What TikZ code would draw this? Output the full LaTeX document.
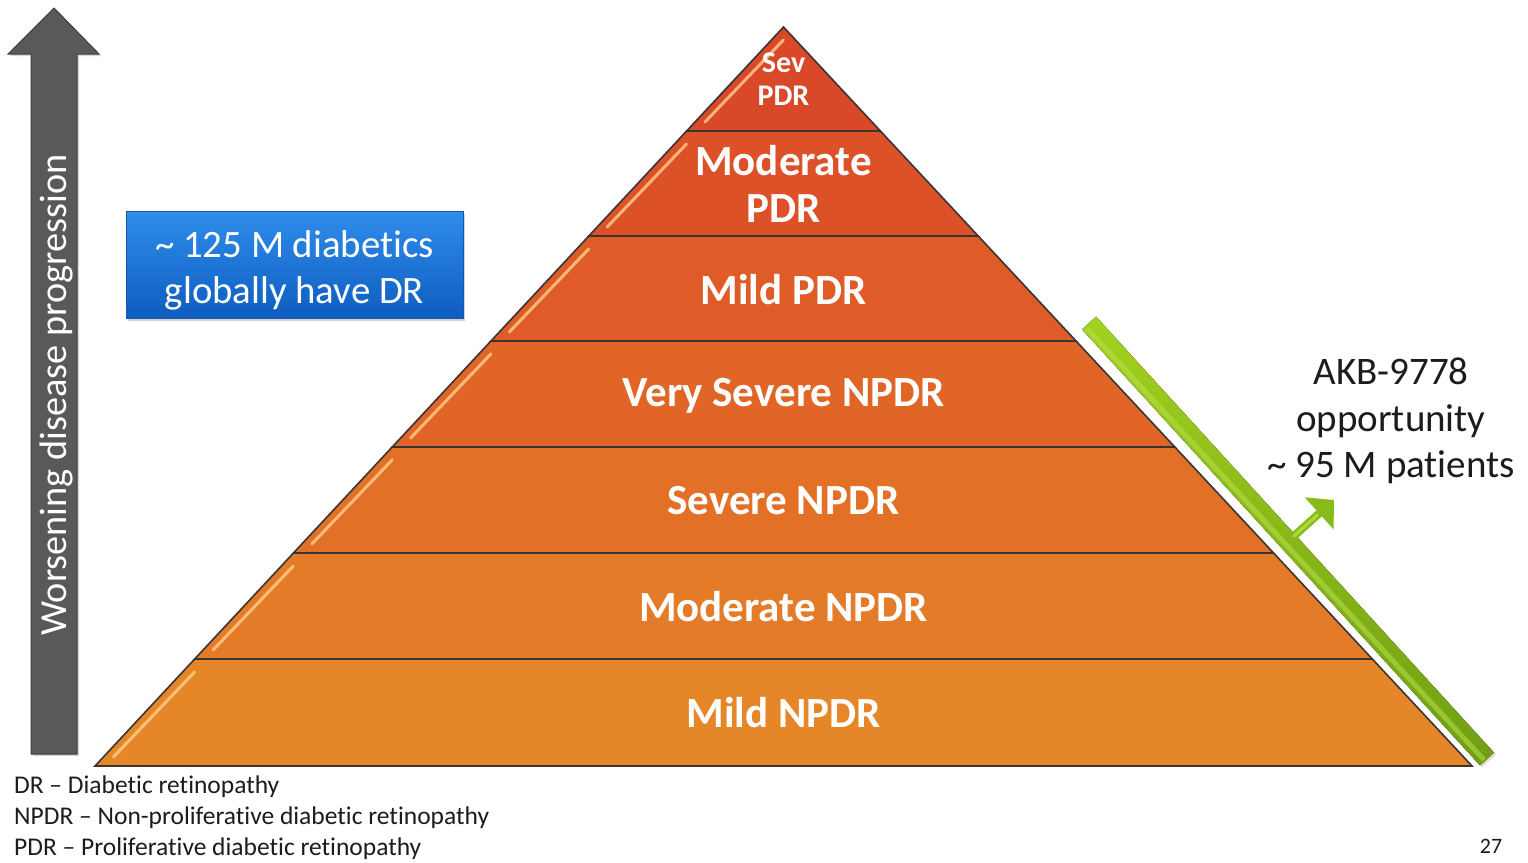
\documentclass[tikz,border=0pt]{standalone}
\usepackage{fontspec}
\setmainfont{Carlito}[Ligatures={TeX,NoCommon}]
\usetikzlibrary{arrows.meta,shadows}

\definecolor{layA}{HTML}{D84829}
\definecolor{layB}{HTML}{DC5128}
\definecolor{layC}{HTML}{DF5B27}
\definecolor{layD}{HTML}{E16527}
\definecolor{layE}{HTML}{E27027}
\definecolor{layF}{HTML}{E37B28}
\definecolor{layG}{HTML}{E58729}
\definecolor{edgedark}{HTML}{3A3533}
\definecolor{glosslight}{HTML}{FFCF8C}
\definecolor{bartop}{HTML}{A2D11F}
\definecolor{barbottom}{HTML}{6F9F12}
\definecolor{barlight}{HTML}{B9E04A}
\definecolor{barbase}{HTML}{86BB1A}
\definecolor{arrowgray}{HTML}{595959}
\definecolor{arrowedge}{HTML}{3F3F3F}
\definecolor{boxtop}{HTML}{2F8DEB}
\definecolor{boxbottom}{HTML}{0E5DBF}
\definecolor{boxedge}{HTML}{1556A8}
\definecolor{inktext}{HTML}{1C1C1C}

\tikzset{
  layer/.style={draw=edgedark, line width=1.6pt, line join=miter},
  gloss/.style={draw=glosslight, line width=3pt, line cap=round, opacity=0.8},
  layerlabel/.style={text=white, font=\bfseries\fontsize{43}{47}\selectfont,
    align=center, inner sep=0pt, text depth=0pt},
  toplabel/.style={text=white, font=\bfseries\fontsize{30}{33}\selectfont,
    align=center, inner sep=0pt, text depth=0pt},
  bluebox/.style={draw=boxedge, line width=0.8pt, top color=boxtop, bottom color=boxbottom,
    minimum width=337pt, minimum height=107pt,
    drop shadow={opacity=0.35, shadow xshift=2pt, shadow yshift=-3pt}},
  boxtext/.style={text=white, align=center, inner sep=0pt,
    font=\fontsize{38.8}{46}\selectfont},
  sidetext/.style={text=inktext, align=center, font=\fontsize{39}{46.5}\selectfont, inner sep=0pt},
  legend/.style={text=inktext, font=\fontsize{25.5}{28}\selectfont, inner sep=0pt, anchor=base west},
  barhi/.style={draw=barlight, line width=5pt, opacity=0.55},
  garrow/.style={draw=barbase, line width=8pt,
    -{Triangle[width=42pt,length=20pt,fill=barbase]}},
  garrowhi/.style={draw=barlight, line width=3pt, line cap=round, opacity=0.8},
}

\begin{document}
\begin{tikzpicture}[x=1pt,y=-1pt]
\useasboundingbox (0,0) rectangle (1528,862);
\fill[white] (0,0) rectangle (1528,862);

% progression arrow on the left
\filldraw[fill=arrowgray, draw=arrowedge, line width=1pt, line join=miter,
  drop shadow={opacity=0.3, shadow xshift=2pt, shadow yshift=-2pt}]
  (31,754) -- (31,54) -- (8,54) -- (54,8) -- (99,54) -- (77,54) -- (77,754) -- cycle;
\node[text=white, rotate=90, font=\fontsize{38.3}{40}\selectfont, inner sep=0pt]
  (progress) at (56,395) {Worsening disease progression};

% stacked pyramid, top to bottom
\foreach \yt/\yb/\col in {27/131/layA,131/236/layB,236/341/layC,341/447/layD,
                          447/553/layE,553/659/layF,659/766/layG}{
  \pgfmathsetmacro{\wt}{(\yt-27)*0.93166}
  \pgfmathsetmacro{\wb}{(\yb-27)*0.93166}
  \pgfmathsetmacro{\xtl}{783.5-\wt}
  \pgfmathsetmacro{\xtr}{783.5+\wt}
  \pgfmathsetmacro{\xbl}{783.5-\wb}
  \pgfmathsetmacro{\xbr}{783.5+\wb}
  \filldraw[layer, fill=\col] (\xtl,\yt) -- (\xtr,\yt) -- (\xbr,\yb) -- (\xbl,\yb) -- cycle;
  % glossy streak along the left slope
  \pgfmathsetmacro{\ga}{\yb-9}
  \pgfmathsetmacro{\gb}{\yt+13}
  \pgfmathsetmacro{\gxa}{783.5-(\ga-27)*0.93166+10}
  \pgfmathsetmacro{\gxb}{783.5-(\gb-27)*0.93166+12}
  \draw[gloss] (\gxa,\ga) -- (\gxb,\gb);
}

% stage labels
\node[toplabel]   (sevpdr)  at (783.5,79)  {Sev\\PDR};
\node[layerlabel] (modpdr)  at (783.5,184) {Moderate\\PDR};
\node[layerlabel] (mildpdr) at (783.5,289) {Mild PDR};
\node[layerlabel] (vsnpdr)  at (783.5,392) {Very Severe NPDR};
\node[layerlabel] (snpdr)   at (783.5,500) {Severe NPDR};
\node[layerlabel] (mnpdr)   at (783.5,606) {Moderate NPDR};
\node[layerlabel] (mildnpdr) at (783.5,712) {Mild NPDR};

% prevalence box
\node[bluebox] (dr) at (294.5,264.5) {};
\node[boxtext] (drtext) at (294.5,270) {\textasciitilde\ 125 M diabetics\\globally have DR};

% green bracket along the right slope
\fill[top color=bartop, bottom color=barbottom,
  drop shadow={opacity=0.25, shadow xshift=2pt, shadow yshift=-2pt}]
  (1096,316.6) -- (1494,752.6) -- (1480,765.4) -- (1082,329.4) -- cycle;
\coordinate (barHiTop) at (1087,328);
\coordinate (barHiBot) at (1484,760);
\draw[barhi] (barHiTop) -- (barHiBot);

\coordinate (arrowFoot) at (1294,536);
\coordinate (arrowTip) at (1334,500);
\draw[garrow] (arrowFoot) -- (arrowTip);
\draw[garrowhi, shorten >=22pt] (arrowFoot) -- (arrowTip);

\node[sidetext] (akb) at (1391,421) {AKB-9778\\opportunity\\\textasciitilde\ 95 M patients};

% abbreviations
\node[legend] (legdr)   at (14,793) {DR – Diabetic retinopathy};
\node[legend] (legnpdr) at (14,824) {NPDR – Non-proliferative diabetic retinopathy};
\node[legend] (legpdr)  at (14,855) {PDR – Proliferative diabetic retinopathy};

\node[text=inktext, font=\fontsize{22}{26}\selectfont, inner sep=0pt, anchor=base]
  (pagenum) at (1491,853) {27};
\end{tikzpicture}
\end{document}
